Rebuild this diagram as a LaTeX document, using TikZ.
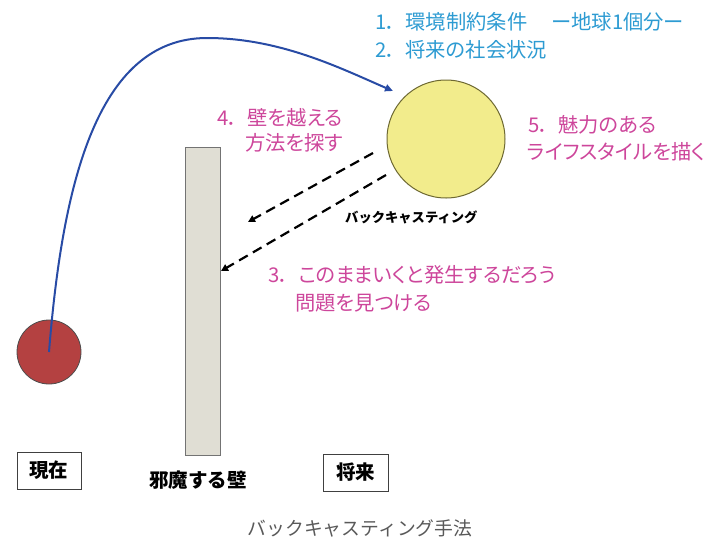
\documentclass[tikz,border=0pt]{standalone}
\usepackage{fontspec}
\setmainfont{Noto Sans CJK JP}
\newfontfamily\pfont[RawFeature=+palt]{Noto Sans CJK JP}
\usetikzlibrary{arrows.meta}
\definecolor{cblue}{RGB}{45,155,210}
\definecolor{cmag}{RGB}{205,70,155}
\definecolor{ccurve}{RGB}{40,75,165}
\definecolor{cyel}{RGB}{242,236,140}
\definecolor{cyeld}{RGB}{110,105,50}
\definecolor{cred}{RGB}{180,65,65}
\definecolor{cwall}{RGB}{224,222,212}
\newcommand{\numgap}{\hspace*{9pt}}
\tikzset{
  bluetxt/.style={anchor=west, inner sep=0, text=cblue, font=\pfont\fontsize{20.3}{24}\selectfont},
  magtxt/.style={anchor=west, inner sep=0, text=cmag, font=\pfont\fontsize{20.3}{24}\selectfont},
  lblbox/.style={draw=black!75, line width=1pt, minimum height=37pt, inner sep=0, font=\bfseries\fontsize{19.5}{23}\selectfont},
  dasharrow/.style={draw=black, line width=2.2pt, dash pattern=on 10pt off 6pt, -{Triangle[length=7pt,width=7pt]}},
}
\begin{document}
\begin{tikzpicture}[x=1pt,y=-1pt]
\useasboundingbox (0,0) rectangle (716,542);
% shapes
\node[circle, draw=black!70, line width=0.8pt, fill=cred, minimum size=64pt, inner sep=0] (now) at (49,352) {};
\node[circle, draw=cyeld, line width=1pt, fill=cyel, minimum size=118pt, inner sep=0] (future) at (446,139) {};
\node[draw=black!55, line width=1pt, fill=cwall, minimum width=35pt, minimum height=308pt, inner sep=0] (wall) at (202.5,301) {};
% curve
\coordinate (tip) at (393,91);
\draw[ccurve, line width=2pt, -{Triangle[length=8pt,width=7pt]}] (now.center) .. controls (62,190) and (95,38) .. (207,38) .. controls (280,38) and (340,68) .. (tip);
% dashed arrows
\coordinate (d1s) at (373,153);
\coordinate (d1e) at (248,222);
\coordinate (d2s) at (386,175);
\coordinate (d2e) at (221,271);
\draw[dasharrow] (d1s) -- (d1e);
\draw[dasharrow] (d2s) -- (d2e);
% texts
\node[bluetxt] (t1) at (375,22) {1．\numgap 環境制約条件\hspace*{24pt}ー地球1個分ー};
\node[bluetxt] (t2) at (375,50) {2．\numgap 将来の社会状況};
\node[magtxt] (t4a) at (217,118) {4．\numgap 壁を越える};
\node[magtxt] (t4b) at (245,143) {方法を探す};
\node[magtxt] (t5a) at (528,125) {5．\numgap 魅力のある};
\node[magtxt] (t5b) at (527,152) {ライフスタイルを描く};
\node[magtxt] (t3a) at (268,275) {3．\numgap このままいくと発生するだろう};
\node[magtxt] (t3b) at (295,303) {問題を見つける};
\node[anchor=west, inner sep=0, font=\bfseries\fontsize{13.3}{15}\selectfont] (bc) at (345,217) {バックキャスティング};
% labels
\node[lblbox, minimum width=64pt] (nowlbl) at (49,470.5) {現在};
\node[lblbox, minimum width=65pt] (futlbl) at (355.5,472.5) {将来};
\node[inner sep=0, font=\bfseries\fontsize{19.5}{23}\selectfont] (walllbl) at (198,480) {邪魔する壁};
\node[inner sep=0, text=black!65, font=\fontsize{18.8}{22}\selectfont] (cap) at (360,528) {バックキャスティング手法};
\end{tikzpicture}
\end{document}
